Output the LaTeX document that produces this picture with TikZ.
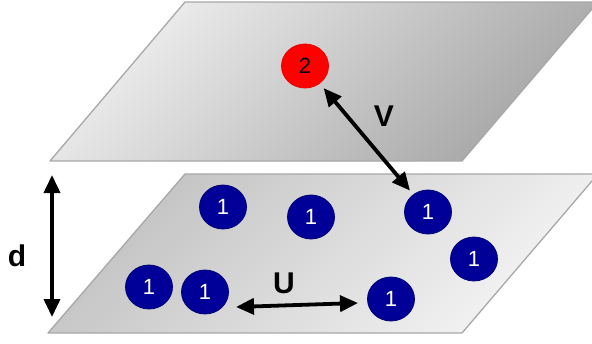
\documentclass[tikz,border=0pt]{standalone}
\usepackage{fontspec}
\setmainfont{Liberation Sans}
\usetikzlibrary{arrows.meta,shapes.geometric}
\definecolor{planeedge}{HTML}{A8A8A8}
\definecolor{topA}{HTML}{EEEEEE}
\definecolor{topB}{HTML}{A6A6A6}
\definecolor{botA}{HTML}{C2C2C2}
\definecolor{botB}{HTML}{F4F4F4}
\definecolor{nblue}{HTML}{000099}
\begin{document}
\begin{tikzpicture}[x=1pt,y=-1pt,
  plane/.style={draw=planeedge, line width=1.3pt, line join=round},
  p1/.style={ellipse, fill=nblue, draw=nblue!75!black, line width=0.8pt, minimum width=47pt, minimum height=44pt, inner sep=0pt, text=white, font=\fontsize{22}{22}\selectfont},
  p2/.style={p1, fill=red, draw=red!92!black, text=black},
  arr/.style={line width=3.8pt, {Triangle[length=18pt,width=16pt]}-{Triangle[length=18pt,width=16pt]}},
  lbl/.style={font=\fontsize{30}{30}\selectfont\bfseries}]
\useasboundingbox (0,0) rectangle (592,343);
% planes
\shade[plane, top color=topA, bottom color=topB, shading angle=45]
  (185,2) -- (598,2) -- (462,161) -- (50,161) -- cycle;
\shade[plane, top color=botA, bottom color=botB, shading angle=45]
  (185,174) -- (598,174) -- (462,333) -- (48,333) -- cycle;
% particles
\node[p2] (n2) at (305,66) {2};
\node[p1] (a) at (223,207) {1};
\node[p1] (b) at (311,217) {1};
\node[p1] (c) at (428,212) {1};
\node[p1] (e) at (474,259) {1};
\node[p1] (f) at (149,287) {1};
\node[p1] (g) at (205,292) {1};
\node[p1] (h) at (391,299) {1};
% arrows
\draw[arr, shorten <=6pt, shorten >=5pt] (n2) -- (c);
\coordinate (ua) at (236,307);
\coordinate (ub) at (358,303);
\draw[arr] (ua) -- (ub);
\coordinate (da) at (52,175);
\coordinate (db) at (52,317);
\draw[arr] (da) -- (db);
% labels
\node[lbl] (lv) at (384,116) {V};
\node[lbl] (lu) at (284,283) {U};
\node[lbl] (ld) at (17,256) {d};
\end{tikzpicture}
\end{document}
